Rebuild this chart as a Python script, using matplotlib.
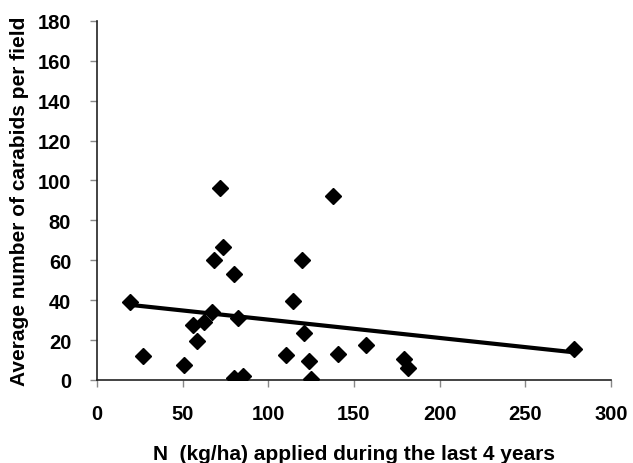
import numpy as np
import matplotlib.pyplot as plt

plt.rcParams['font.family'] = ['Liberation Sans', 'DejaVu Sans']

# N applied (kg/ha) and average carabids per field
n_applied = [19.3, 26.7, 51, 56.2, 58.2, 62.5, 67, 68.3, 71.8, 73.7, 80, 80,
             82.1, 85.4, 110.3, 114.4, 119.9, 121, 123.8, 125.1, 137.8, 140.5,
             157.2, 179.2, 181.5, 278.5]
carabids = [39.3, 12.0, 7.4, 27.7, 19.4, 28.9, 34, 60, 96.4, 66.7, 53.2, 1.2,
            31, 2, 12.7, 39.6, 60, 23.7, 9.4, 0.7, 92.1, 12.9,
            17.4, 10.4, 6.0, 15.5]

x = np.array(n_applied)
y = np.array(carabids)
slope, intercept = np.polyfit(x, y, 1)
xl = np.array([x.min(), x.max()])

fig = plt.figure(figsize=(6.33, 4.64), dpi=100)
ax = fig.add_axes([0.153, 0.179, 0.812, 0.774])

ax.plot(xl, slope * xl + intercept, color='black', lw=3, zorder=2)
ax.plot(x, y, linestyle='none', marker='D', markersize=8.5, color='black', zorder=3)

ax.set_xlim(0, 300)
ax.set_ylim(0, 180)
ax.set_xticks(range(0, 301, 50))
ax.set_yticks(range(0, 181, 20))
for s in ['top', 'right']:
    ax.spines[s].set_visible(False)
for s in ['left', 'bottom']:
    ax.spines[s].set_color('#222222')
    ax.spines[s].set_linewidth(1.2)
ax.tick_params(direction='out', length=5, width=1, colors='#888888', labelcolor='black',
               labelsize=14.5)
ax.tick_params(axis='x', pad=12.5)
ax.tick_params(axis='y', pad=13.5)
for lab in ax.get_xticklabels() + ax.get_yticklabels():
    lab.set_fontweight('bold')

ax.set_xlabel('N  (kg/ha) applied during the last 4 years', fontsize=15,
              fontweight='bold', labelpad=15)
ax.set_ylabel('Average number of carabids per field', fontsize=15,
              fontweight='bold', labelpad=6.5)

fig.savefig('out.png', dpi=100)
